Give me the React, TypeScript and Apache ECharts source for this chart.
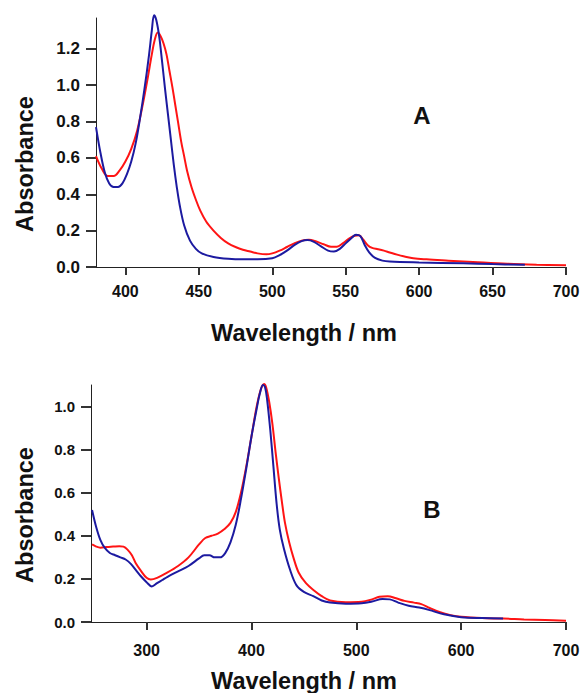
import React, { useEffect, useRef } from "react";
import * as echarts from "echarts";

// ---- Panel A data ----
const aBlueWl = [380, 383, 386, 389, 392, 395, 398, 401, 404, 407, 410, 413, 416, 418, 419.5, 421, 423, 425, 427, 429, 431, 433, 435, 437, 440, 444, 448, 452, 460, 470, 480, 490, 500, 505, 510, 515, 520, 524, 528, 533, 538, 542, 546, 550, 554, 557, 560, 563, 566, 570, 575, 580, 600, 630, 650, 672];
const aBlueAbs = [0.77, 0.63, 0.52, 0.46, 0.44, 0.44, 0.46, 0.51, 0.58, 0.68, 0.82, 0.98, 1.16, 1.30, 1.385, 1.36, 1.27, 1.13, 0.98, 0.84, 0.70, 0.56, 0.44, 0.34, 0.23, 0.145, 0.10, 0.075, 0.055, 0.045, 0.042, 0.042, 0.048, 0.065, 0.09, 0.12, 0.142, 0.148, 0.14, 0.115, 0.09, 0.085, 0.10, 0.13, 0.16, 0.178, 0.17, 0.12, 0.08, 0.05, 0.035, 0.03, 0.025, 0.02, 0.016, 0.012];

const aRedWl = [380, 384, 388, 392, 396, 400, 404, 408, 412, 415, 418, 420, 422, 424, 426, 428, 430, 432, 434, 436, 438, 440, 442, 445, 448, 451, 455, 460, 465, 470, 475, 480, 485, 490, 496, 500, 505, 510, 515, 520, 525, 530, 535, 540, 544, 548, 552, 556, 559, 562, 565, 568, 572, 576, 580, 585, 590, 596, 605, 620, 640, 660, 680, 700];
const aRedAbs = [0.61, 0.54, 0.50, 0.50, 0.53, 0.58, 0.65, 0.75, 0.90, 1.03, 1.17, 1.25, 1.29, 1.27, 1.23, 1.17, 1.08, 0.99, 0.89, 0.79, 0.69, 0.61, 0.53, 0.44, 0.37, 0.31, 0.25, 0.20, 0.16, 0.13, 0.11, 0.095, 0.085, 0.075, 0.07, 0.075, 0.09, 0.11, 0.13, 0.145, 0.15, 0.14, 0.125, 0.112, 0.112, 0.13, 0.155, 0.172, 0.175, 0.15, 0.12, 0.105, 0.098, 0.09, 0.08, 0.068, 0.058, 0.048, 0.042, 0.035, 0.026, 0.018, 0.013, 0.01];

// ---- Panel B data ----
const bBlueWl = [248, 252, 256, 260, 265, 270, 275, 280, 285, 290, 295, 300, 305, 310, 315, 320, 330, 340, 350, 355, 360, 365, 370, 375, 380, 385, 390, 395, 400, 405, 408, 411, 413, 415, 418, 421, 424, 427, 431, 437, 443, 450, 459, 467, 475, 490, 505, 515, 525, 532, 540, 550, 560, 570, 580, 590, 600, 620, 640];
const bBlueAbs = [0.52, 0.44, 0.38, 0.345, 0.32, 0.31, 0.30, 0.29, 0.27, 0.24, 0.21, 0.185, 0.165, 0.18, 0.195, 0.21, 0.235, 0.26, 0.295, 0.31, 0.31, 0.30, 0.30, 0.32, 0.37, 0.45, 0.57, 0.71, 0.86, 0.99, 1.06, 1.10, 1.09, 1.03, 0.89, 0.72, 0.55, 0.43, 0.34, 0.24, 0.17, 0.14, 0.12, 0.10, 0.09, 0.085, 0.087, 0.095, 0.107, 0.105, 0.09, 0.075, 0.067, 0.055, 0.04, 0.03, 0.022, 0.018, 0.016];

const bRedWl = [248, 252, 256, 262, 268, 274, 278, 282, 286, 290, 295, 300, 304, 310, 320, 330, 340, 350, 356, 362, 368, 374, 380, 385, 390, 395, 400, 405, 409, 412, 414, 417, 420, 423, 426, 429, 432, 436, 440, 445, 452, 460, 467, 475, 490, 505, 515, 522, 530, 538, 546, 555, 562, 570, 580, 590, 600, 620, 640, 660, 680, 700];
const bRedAbs = [0.36, 0.35, 0.345, 0.348, 0.35, 0.352, 0.35, 0.335, 0.31, 0.27, 0.235, 0.205, 0.197, 0.205, 0.23, 0.26, 0.30, 0.36, 0.39, 0.40, 0.41, 0.43, 0.46, 0.51, 0.60, 0.72, 0.86, 1.00, 1.08, 1.105, 1.09, 1.02, 0.92, 0.79, 0.67, 0.56, 0.46, 0.37, 0.30, 0.23, 0.18, 0.145, 0.12, 0.10, 0.092, 0.094, 0.105, 0.117, 0.12, 0.11, 0.098, 0.09, 0.083, 0.065, 0.045, 0.032, 0.024, 0.018, 0.016, 0.012, 0.009, 0.006];

// ---- Axis ranges and tick labels ----
const aXMin = 380;
const bXMin = 247;
const xMax = 700;
const aYMax = 1.37;
const bYMax = 1.1;
const aXTicks = [400, 450, 500, 550, 600, 650, 700];
const aYTicks = [0, 0.2, 0.4, 0.6, 0.8, 1.0, 1.2];
const bXTicks = [300, 400, 500, 600, 700];
const bYTicks = [0, 0.2, 0.4, 0.6, 0.8, 1.0];

const xTitle = "Wavelength / nm";
const yTitle = "Absorbance";

const RED = "#ff1414";
const BLUE = "#1c1aa0";
const AXIS = "#222222";
const TICK = "#333333";
const FONT = "'Liberation Sans', Arial, sans-serif";

const zip = (xs: number[], ys: number[]) => xs.map((x, i) => [x, ys[i]]);

export default function App() {
  const ref = useRef<HTMLDivElement>(null);
  useEffect(() => {
    document.body.style.margin = "0";
    if (!ref.current) return;
    const chart = echarts.init(ref.current, undefined, { renderer: "svg" });

    const xAxisBase = (gridIndex: number, min: number, ticks: number[], fs: number, margin: number) => ({
      type: "value",
      gridIndex,
      min,
      max: xMax,
      splitLine: { show: false },
      axisLine: { show: true, lineStyle: { color: AXIS, width: 1 } },
      axisTick: { show: true, length: 8, customValues: ticks, lineStyle: { color: TICK, width: 2 } },
      axisLabel: {
        customValues: ticks,
        margin,
        fontSize: fs,
        fontWeight: "bold",
        fontFamily: FONT,
        color: "#111",
      },
    });
    const yAxisBase = (gridIndex: number, max: number, ticks: number[], fs: number) => ({
      type: "value",
      gridIndex,
      min: 0,
      max,
      splitLine: { show: false },
      axisLine: { show: true, lineStyle: { color: AXIS, width: 1 } },
      axisTick: { show: true, length: 10, customValues: ticks, lineStyle: { color: TICK, width: 2 } },
      axisLabel: {
        customValues: ticks,
        margin: 16,
        fontSize: fs,
        fontWeight: "bold",
        fontFamily: FONT,
        color: "#111",
        formatter: (v: number) => v.toFixed(1),
      },
    });
    const line = (name: string, x: number, data: number[][], color: string) => ({
      name,
      type: "line",
      xAxisIndex: x,
      yAxisIndex: x,
      data,
      smooth: 0.35,
      showSymbol: false,
      symbol: "none",
      clip: false,
      lineStyle: { color, width: 2 },
    });
    const title = (text: string, x: number, y: number, rot: number, size: number) => ({
      type: "text",
      x,
      y,
      rotation: rot,
      style: {
        text,
        fill: "#111",
        font: `bold ${size}px ${FONT}`,
        textAlign: "center",
        textVerticalAlign: "middle",
      },
    });

    chart.setOption({
      animation: false,
      grid: [
        { left: 96, top: 18, width: 470, height: 249 },
        { left: 91, top: 385, width: 475, height: 237 },
      ],
      xAxis: [xAxisBase(0, aXMin, aXTicks, 16, 16), xAxisBase(1, bXMin, bXTicks, 16, 20)],
      yAxis: [yAxisBase(0, aYMax, aYTicks, 17), yAxisBase(1, bYMax, bYTicks, 15)],
      series: [
        line("A red", 0, zip(aRedWl, aRedAbs), RED),
        line("A blue", 0, zip(aBlueWl, aBlueAbs), BLUE),
        line("B red", 1, zip(bRedWl, bRedAbs), RED),
        line("B blue", 1, zip(bBlueWl, bBlueAbs), BLUE),
      ],
      graphic: [
        title(xTitle, 304, 333, 0, 23.5),
        title(xTitle, 304, 681, 0, 23.5),
        title(yTitle, 25, 164, Math.PI / 2, 23.5),
        title(yTitle, 25, 515, Math.PI / 2, 23.5),
        title("A", 422, 115, 0, 24),
        title("B", 432, 509, 0, 24),
      ],
    });
    return () => chart.dispose();
  }, []);
  return (
    <div
      ref={ref}
      style={{ position: "absolute", left: 0, top: 0, width: 584, height: 693 }}
    />
  );
}
